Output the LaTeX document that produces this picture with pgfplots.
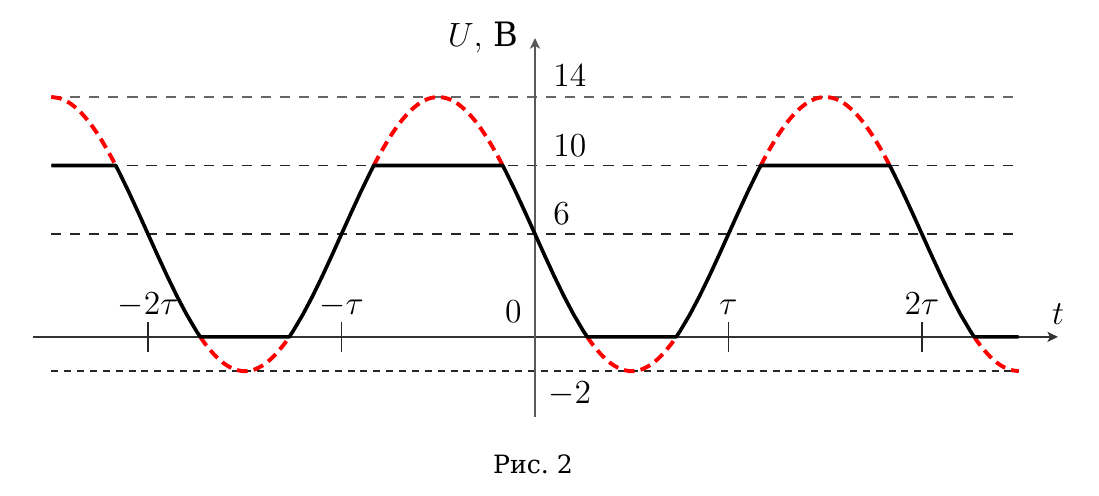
\documentclass[border=0pt]{standalone}
\usepackage{fontspec}
\usepackage{pgfplots}
\pgfplotsset{compat=1.18}
\usetikzlibrary{arrows.meta}
\newfontfamily\rufont{DejaVu Serif}
\begin{document}
\begin{tikzpicture}
\begin{axis}[
  x=69.1pt, y=6.12pt,
  xmin=-2.765, xmax=2.915, ymin=-9.28, ymax=19.66,
  hide axis, clip=false,
]
\path (axis cs:-2.765,-9.28) rectangle (axis cs:2.915,19.66);
% reference lines
\addplot[draw=black!60, line width=0.6pt, dash pattern=on 3.6pt off 3.2pt] coordinates {(-2.5,14) (2.5,14)};
\addplot[draw=black!85, line width=0.6pt, dash pattern=on 3.6pt off 3.2pt] coordinates {(-2.5,10) (2.5,10)};
\addplot[draw=black!85, line width=0.6pt, dash pattern=on 3.6pt off 3.2pt] coordinates {(-2.5,6) (2.5,6)};
\addplot[draw=black!85, line width=0.6pt, dash pattern=on 2.5pt off 2.1pt] coordinates {(-2.5,-2) (2.5,-2)};
% axes
\draw[black!80, line width=0.5pt, -{Stealth[length=3.8pt,width=3.6pt,inset=1pt]}] (axis cs:-2.594,0) -- (axis cs:2.703,0);
\draw[black!65, line width=0.6pt, -{Stealth[length=3.8pt,width=3.6pt,inset=1pt]}] (axis cs:0,-4.67) -- (axis cs:0,17.44);
% tau ticks
\draw[black!85, line width=0.5pt] ([yshift=-5.4pt]axis cs:-2,0) -- ([yshift=5.4pt]axis cs:-2,0);
\draw[black!85, line width=0.5pt] ([yshift=-5.4pt]axis cs:-1,0) -- ([yshift=5.4pt]axis cs:-1,0);
\draw[black!85, line width=0.5pt] ([yshift=-5.4pt]axis cs:1,0) -- ([yshift=5.4pt]axis cs:1,0);
\draw[black!85, line width=0.5pt] ([yshift=-5.4pt]axis cs:2,0) -- ([yshift=5.4pt]axis cs:2,0);
% red dashed sine parts
\addplot[red, line width=1.4pt, dash pattern=on 3.8pt off 2.2pt, smooth] coordinates {(-2.5,14) (-2.45,13.902) (-2.4,13.608) (-2.35,13.128) (-2.3,12.472) (-2.25,11.657) (-2.2,10.702) (-2.1667,10)};
\addplot[red, line width=1.4pt, dash pattern=on 3.8pt off 2.2pt, smooth] coordinates {(-1.73,0) (-1.7,-0.472) (-1.65,-1.128) (-1.6,-1.608) (-1.55,-1.902) (-1.5,-2) (-1.45,-1.902) (-1.4,-1.608) (-1.35,-1.128) (-1.3,-0.472) (-1.27,0)};
\addplot[red, line width=1.4pt, dash pattern=on 3.8pt off 2.2pt, smooth] coordinates {(-0.8333,10) (-0.8,10.702) (-0.75,11.657) (-0.7,12.472) (-0.65,13.128) (-0.6,13.608) (-0.55,13.902) (-0.5,14) (-0.45,13.902) (-0.4,13.608) (-0.35,13.128) (-0.3,12.472) (-0.25,11.657) (-0.2,10.702) (-0.1667,10)};
\addplot[red, line width=1.4pt, dash pattern=on 3.8pt off 2.2pt, smooth] coordinates {(0.27,0) (0.3,-0.472) (0.35,-1.128) (0.4,-1.608) (0.45,-1.902) (0.5,-2) (0.55,-1.902) (0.6,-1.608) (0.65,-1.128) (0.7,-0.472) (0.73,0)};
\addplot[red, line width=1.4pt, dash pattern=on 3.8pt off 2.2pt, smooth] coordinates {(1.1667,10) (1.2,10.702) (1.25,11.657) (1.3,12.472) (1.35,13.128) (1.4,13.608) (1.45,13.902) (1.5,14) (1.55,13.902) (1.6,13.608) (1.65,13.128) (1.7,12.472) (1.75,11.657) (1.8,10.702) (1.8333,10)};
\addplot[red, line width=1.4pt, dash pattern=on 3.8pt off 2.2pt, smooth] coordinates {(2.27,0) (2.3,-0.472) (2.35,-1.128) (2.4,-1.608) (2.45,-1.902) (2.5,-2)};
% black clipped signal
\addplot[black, line width=1.3pt, line join=round] coordinates {(-2.5,10) (-2.1667,10) (-2.15,9.632) (-2.1,8.472) (-2.05,7.251) (-2,6) (-1.95,4.749) (-1.9,3.528) (-1.85,2.368) (-1.8,1.298) (-1.75,0.343) (-1.73,0) (-1.27,0) (-1.25,0.343) (-1.2,1.298) (-1.15,2.368) (-1.1,3.528) (-1.05,4.749) (-1,6) (-0.95,7.251) (-0.9,8.472) (-0.85,9.632) (-0.8333,10) (-0.1667,10) (-0.15,9.632) (-0.1,8.472) (-0.05,7.251) (0,6) (0.05,4.749) (0.1,3.528) (0.15,2.368) (0.2,1.298) (0.25,0.343) (0.27,0) (0.73,0) (0.75,0.343) (0.8,1.298) (0.85,2.368) (0.9,3.528) (0.95,4.749) (1,6) (1.05,7.251) (1.1,8.472) (1.15,9.632) (1.1667,10) (1.8333,10) (1.85,9.632) (1.9,8.472) (1.95,7.251) (2,6) (2.05,4.749) (2.1,3.528) (2.15,2.368) (2.2,1.298) (2.25,0.343) (2.27,0) (2.5,0)};
% labels
\node[anchor=base west, inner sep=0, font=\large] at ([xshift=6.4pt, yshift=3.6pt]axis cs:0,14) {$14$};
\node[anchor=base west, inner sep=0, font=\large] at ([xshift=6.4pt, yshift=3.3pt]axis cs:0,10) {$10$};
\node[anchor=base west, inner sep=0, font=\large] at ([xshift=6.4pt, yshift=3.3pt]axis cs:0,6) {$6$};
\node[anchor=base west, inner sep=0, font=\large] at ([xshift=4.6pt, yshift=-11.4pt]axis cs:0,-2) {$-2$};
\node[anchor=base east, inner sep=0, font=\large] at ([xshift=-4.6pt, yshift=5pt]axis cs:0,0) {$0$};
\node[anchor=base, inner sep=0, font=\large] at ([yshift=7.9pt]axis cs:-2,0) {$-2\tau$};
\node[anchor=base, inner sep=0, font=\large] at ([yshift=7.9pt]axis cs:-1,0) {$-\tau$};
\node[anchor=base, inner sep=0, font=\large] at ([yshift=7.9pt]axis cs:1,0) {$\tau$};
\node[anchor=base, inner sep=0, font=\large] at ([yshift=7.9pt]axis cs:2,0) {$2\tau$};
\node[anchor=base, inner sep=0, font=\large] at ([yshift=4.3pt]axis cs:2.703,0) {$t$};
\node[anchor=base east, inner sep=0, font=\large] at ([xshift=-5.7pt, yshift=103.6pt]axis cs:0,0) {$U$, {\rufont В}};
\node[anchor=base, inner sep=0, font=\rufont\small] at ([xshift=-0.7pt, yshift=-48.9pt]axis cs:0,0) {Рис.~2};
\end{axis}
\end{tikzpicture}
\end{document}
